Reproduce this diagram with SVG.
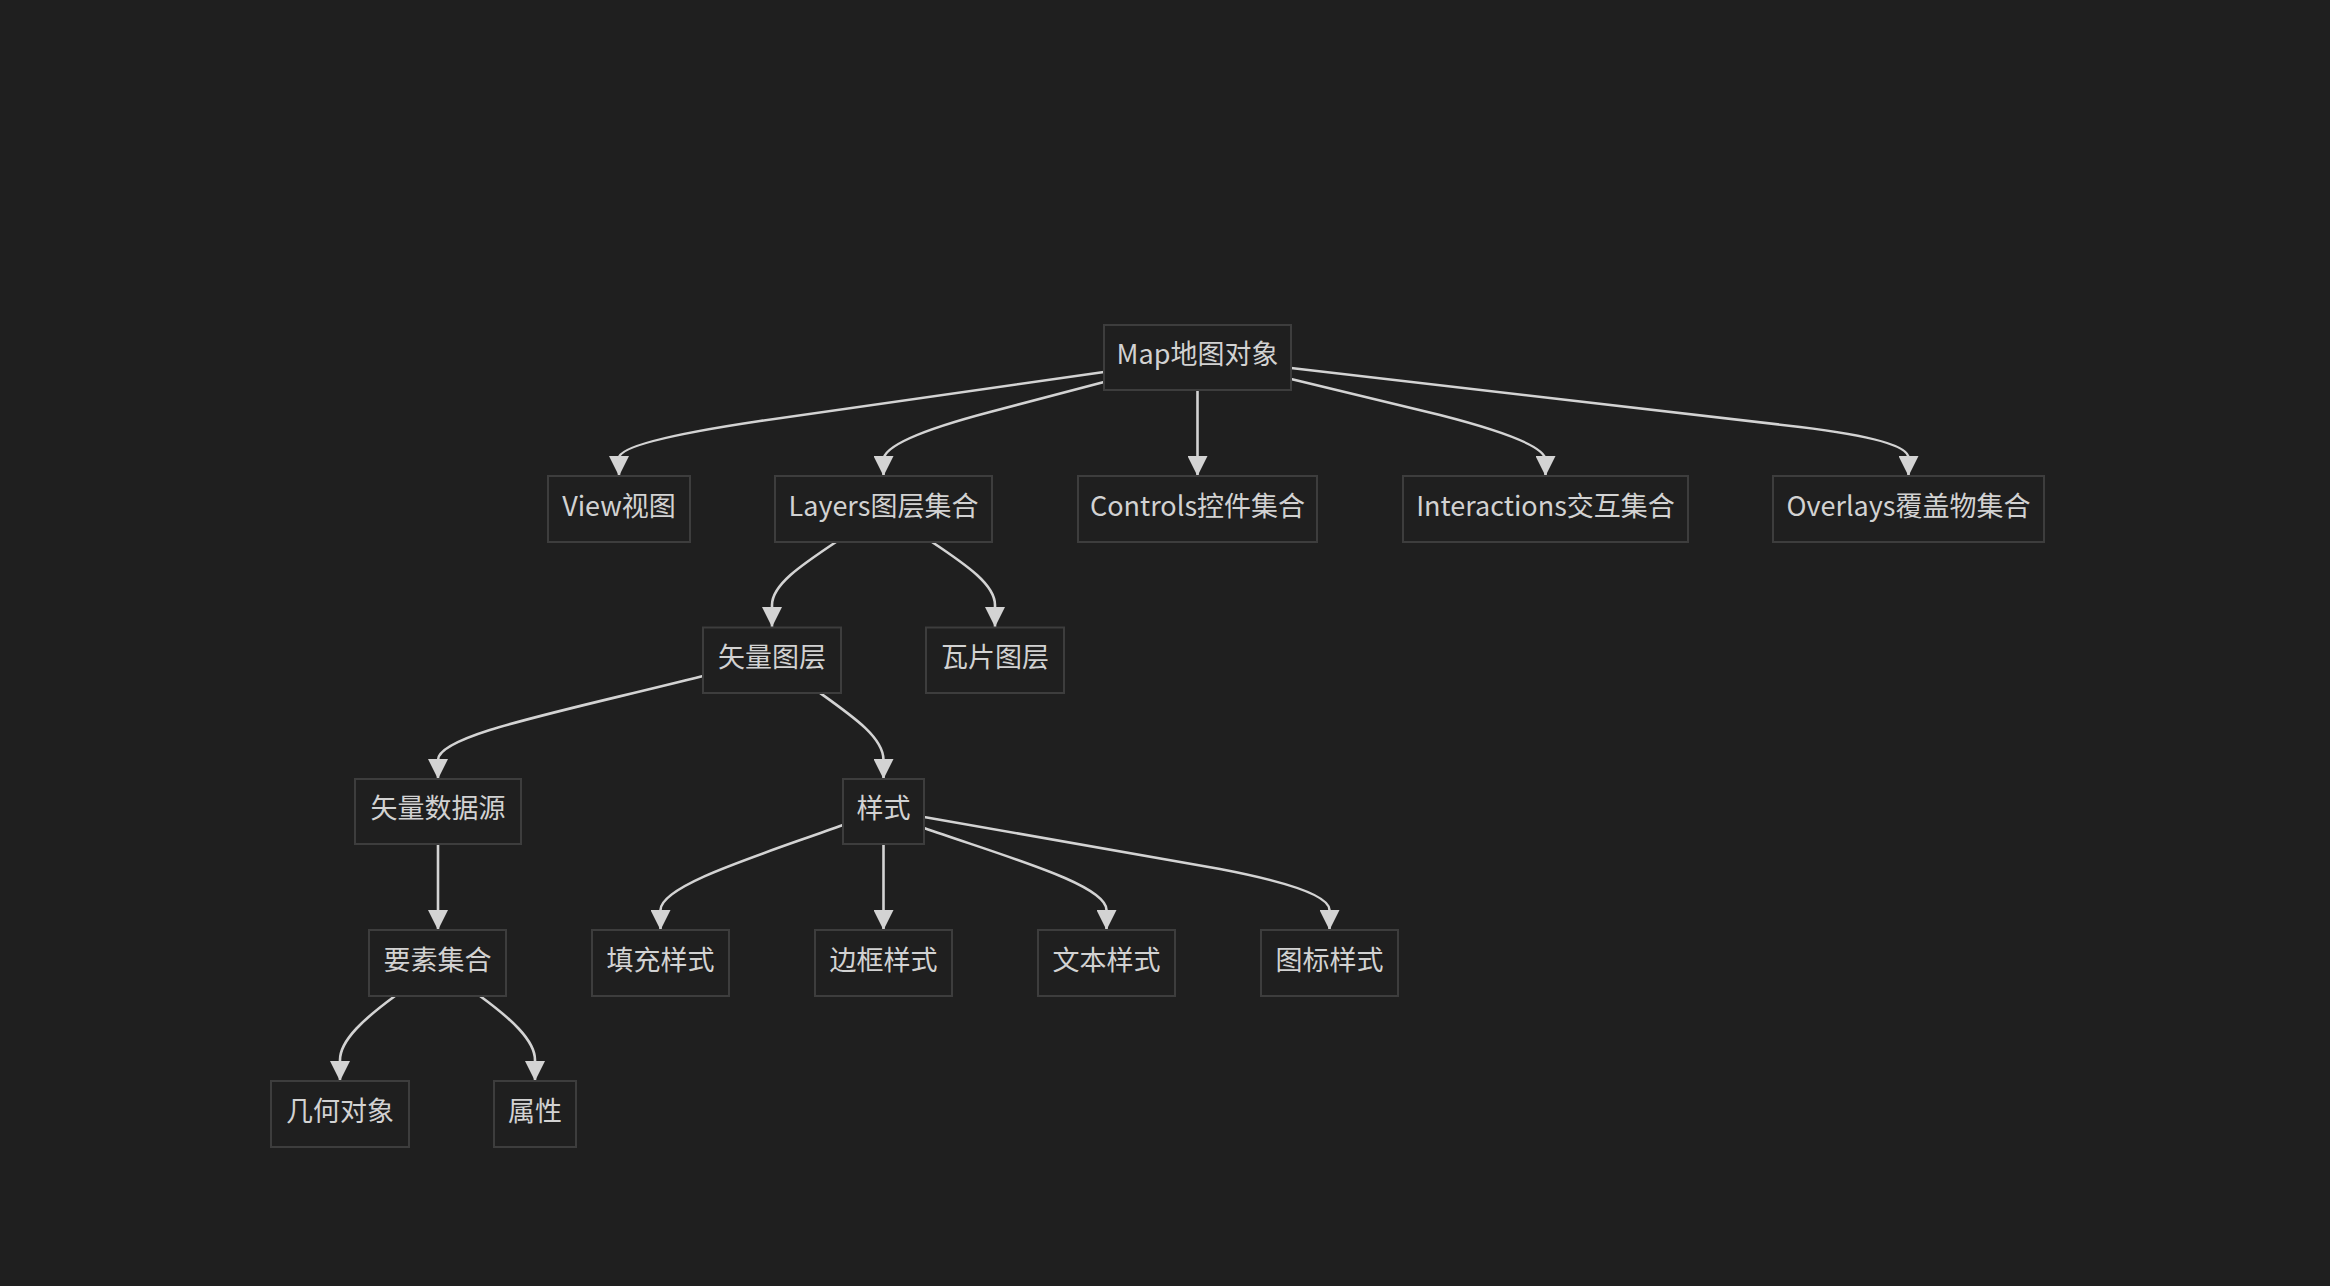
<svg xmlns="http://www.w3.org/2000/svg" width="2330" height="1286" viewBox="0 0 2330 1286">
<style>
.bg{fill:#1f1f1f}
.node rect{fill:#1f1f1f;stroke:#3d3d3d;stroke-width:2}
.node text{font-family:"Noto Sans CJK SC","Noto Sans",sans-serif;font-size:27px;fill:#d2d2d2;text-anchor:middle;dominant-baseline:central}
.edges path{fill:none;stroke:#d3d3d3;stroke-width:2.6;marker-end:url(#arrow)}
</style>
<defs>
<marker id="arrow" viewBox="0 0 10 10" refX="10" refY="5" markerWidth="21" markerHeight="20" markerUnits="userSpaceOnUse" orient="auto">
<path d="M0,0 L10,5 L0,10 z" fill="#d3d3d3"/>
</marker>
</defs>
<rect class="bg" x="0" y="0" width="2330" height="1286"/>
<g id="edges" class="edges">
<path d="M1104,372 L760,421 Q619,442 619,458 L619,476"/>
<path d="M1104,382 L990,412 Q883.5,440 883.5,460 L883.5,476"/>
<path d="M1197.5,390 L1197.5,476"/>
<path d="M1291,379 L1440,415 Q1545.5,442 1545.5,460 L1545.5,476"/>
<path d="M1291,368 L1800,427 Q1908.5,440 1908.5,458 L1908.5,476"/>
<path d="M836,542 C800,566 772,585 772,605 L772,627"/>
<path d="M932,542 C968,566 995,585 995,605 L995,627"/>
<path d="M703,676 C560,712 438,735 438,760 L438,779"/>
<path d="M820,693 C855,718 883.5,738 883.5,760 L883.5,779"/>
<path d="M438,844 L438,930"/>
<path d="M395,996 C365,1018 340,1040 340,1060 L340,1081"/>
<path d="M480,996 C510,1018 535,1040 535,1060 L535,1081"/>
<path d="M843,825 C760,855 660.5,885 660.5,910 L660.5,930"/>
<path d="M883.5,844 L883.5,930"/>
<path d="M924,828 C1010,858 1106.5,885 1106.5,910 L1106.5,930"/>
<path d="M924,817 L1220,869 Q1329.5,890 1329.5,910 L1329.5,930"/>
</g>
<g id="map" class="node"><rect x="1104" y="325" width="187" height="65"/><text x="1197.5" y="352.5">Map地图对象</text></g>
<g id="view" class="node"><rect x="548" y="476" width="142" height="66"/><text x="619" y="504">View视图</text></g>
<g id="layers" class="node"><rect x="775" y="476" width="217" height="66"/><text x="883.5" y="504">Layers图层集合</text></g>
<g id="controls" class="node"><rect x="1078" y="476" width="239" height="66"/><text x="1197.5" y="504">Controls控件集合</text></g>
<g id="interactions" class="node"><rect x="1403" y="476" width="285" height="66"/><text x="1545.5" y="504">Interactions交互集合</text></g>
<g id="overlays" class="node"><rect x="1773" y="476" width="271" height="66"/><text x="1908.5" y="504">Overlays覆盖物集合</text></g>
<g id="vectorLayer" class="node"><rect x="703" y="627.5" width="138" height="65.5"/><text x="772" y="655">矢量图层</text></g>
<g id="tileLayer" class="node"><rect x="926" y="627.5" width="138" height="65.5"/><text x="995" y="655">瓦片图层</text></g>
<g id="vectorSource" class="node"><rect x="355" y="779" width="166" height="65"/><text x="438" y="806.5">矢量数据源</text></g>
<g id="style" class="node"><rect x="843" y="779" width="81" height="65"/><text x="883.5" y="806.5">样式</text></g>
<g id="features" class="node"><rect x="369" y="930" width="137" height="66"/><text x="437.5" y="958">要素集合</text></g>
<g id="fillStyle" class="node"><rect x="592" y="930" width="137" height="66"/><text x="660.5" y="958">填充样式</text></g>
<g id="strokeStyle" class="node"><rect x="815" y="930" width="137" height="66"/><text x="883.5" y="958">边框样式</text></g>
<g id="textStyle" class="node"><rect x="1038" y="930" width="137" height="66"/><text x="1106.5" y="958">文本样式</text></g>
<g id="iconStyle" class="node"><rect x="1261" y="930" width="137" height="66"/><text x="1329.5" y="958">图标样式</text></g>
<g id="geometry" class="node"><rect x="271" y="1081" width="138" height="66"/><text x="340" y="1109">几何对象</text></g>
<g id="properties" class="node"><rect x="494" y="1081" width="82" height="66"/><text x="535" y="1109">属性</text></g>
</svg>
